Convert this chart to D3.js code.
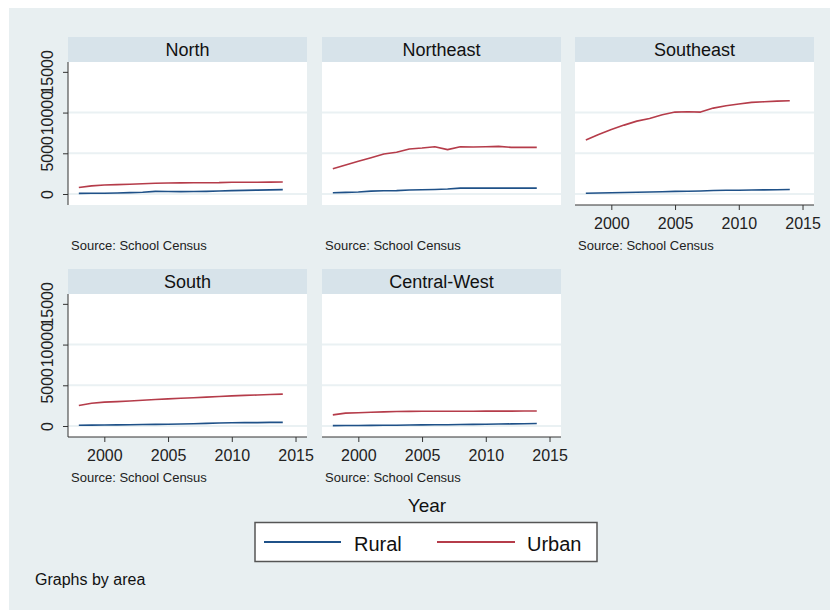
<!DOCTYPE html>
<html><head><meta charset="utf-8">
<script src="https://cdn.jsdelivr.net/npm/d3@7"></script>
<style>body{margin:0;background:#fff}svg{display:block;font-family:"Liberation Sans",Arial,sans-serif}</style>
</head><body><svg id="c" width="830" height="610"></svg>
<script>
const years = [1998,1999,2000,2001,2002,2003,2004,2005,2006,2007,2008,2009,2010,2011,2012,2013,2014];
const areas = ["North","Northeast","Southeast","South","Central-West"];
const ruralNorth = [80,90,100,130,170,220,320,300,290,300,320,370,420,450,480,510,540];
const urbanNorth = [800,1000,1100,1150,1200,1260,1320,1350,1370,1380,1390,1400,1450,1440,1450,1460,1480];
const ruralNortheast = [150,200,250,350,400,420,500,520,560,620,720,720,720,720,720,720,720];
const urbanNortheast = [3110,3560,4010,4460,4910,5120,5530,5650,5810,5450,5810,5770,5810,5850,5730,5730,5730];
const ruralSoutheast = [100,130,160,190,220,250,280,320,340,370,430,460,470,490,510,530,550];
const urbanSoutheast = [6620,7320,7930,8460,8950,9280,9730,10060,10100,10060,10550,10840,11050,11250,11330,11410,11460];
const ruralSouth = [100,110,120,140,160,180,200,220,250,280,320,360,400,410,420,440,450];
const urbanSouth = [2520,2800,2930,3000,3080,3160,3250,3330,3400,3470,3550,3620,3700,3760,3810,3860,3910];
const ruralCentralWest = [50,60,70,80,90,100,120,140,150,160,180,200,220,240,260,280,300];
const urbanCentralWest = [1370,1580,1620,1680,1740,1780,1800,1820,1820,1820,1820,1820,1830,1830,1830,1840,1840];
const yTicks = [0,5000,10000,15000];
const xTicks = [2000,2005,2010,2015];
const seriesNames = ["Rural","Urban"];
const colors = {Rural:"#1f5188", Urban:"#b53c4a"};

const data = {
  North:{Rural:ruralNorth,Urban:urbanNorth},
  Northeast:{Rural:ruralNortheast,Urban:urbanNortheast},
  Southeast:{Rural:ruralSoutheast,Urban:urbanSoutheast},
  South:{Rural:ruralSouth,Urban:urbanSouth},
  "Central-West":{Rural:ruralCentralWest,Urban:urbanCentralWest}
};

const svg = d3.select("#c");
svg.append("rect").attr("x",9).attr("y",8).attr("width",821).attr("height",602).attr("fill","#e8eff1");

const colLeft = [68,322,575], pw = 239;
const rowTop = [37,269], stripH = 25, ph = 143;
const showY = a => a==="North"||a==="South";
const showX = a => a==="Southeast"||a==="South"||a==="Central-West";

areas.forEach((a,i)=>{
  const col = i<3 ? i : i-3, row = i<3 ? 0 : 1;
  const left = colLeft[col], top = rowTop[row];
  const pt = top+stripH, pb = pt+ph;
  const g = svg.append("g");
  g.append("rect").attr("x",left).attr("y",top).attr("width",pw).attr("height",stripH).attr("fill","#d7e3ea");
  g.append("text").attr("x",left+pw/2).attr("y",top+18.5).attr("text-anchor","middle")
    .attr("font-size",18).attr("fill","#111").text(a);
  g.append("rect").attr("x",left).attr("y",pt).attr("width",pw).attr("height",ph).attr("fill","#fff");
  const x = d3.scaleLinear().domain([1997.15,2015.9]).range([left,left+pw]);
  const y = d3.scaleLinear().domain([-1350,16210]).range([pb,pt]);
  [0,5000,10000].forEach(v=>{
    g.append("line").attr("x1",left).attr("x2",left+pw).attr("y1",y(v)).attr("y2",y(v))
      .attr("stroke","#eaf1f3").attr("stroke-width",2);
  });
  seriesNames.forEach(s=>{
    const line = d3.line().x((d,k)=>x(years[k])).y(d=>y(d));
    g.append("path").datum(data[a][s]).attr("d",line).attr("fill","none")
      .attr("stroke",colors[s]).attr("stroke-width",1.6).attr("stroke-linejoin","round");
  });
  if(showY(a)){
    const ax = g.append("g").attr("transform",`translate(${left},0)`)
      .call(d3.axisLeft(y).tickValues(yTicks).tickSize(5).tickPadding(0).tickFormat(d3.format("d")));
    ax.select(".domain").attr("d",`M0,${pt}V${pb}`).attr("stroke","#333");
    ax.selectAll(".tick line").attr("stroke","#333");
    ax.selectAll(".tick text").attr("x",null).attr("dy",null).attr("font-size",16).attr("fill","#222")
      .attr("text-anchor","middle").attr("transform","translate(-15,0) rotate(-90)").attr("y",0);
    ax.attr("font-family",null);
  }
  if(showX(a)){
    const ax = g.append("g").attr("transform",`translate(0,${pb})`)
      .call(d3.axisBottom(x).tickValues(xTicks).tickSize(5).tickPadding(8).tickFormat(d3.format("d")));
    ax.select(".domain").attr("d",`M${left},0H${left+pw}`).attr("stroke","#333");
    ax.selectAll(".tick line").attr("stroke","#333");
    ax.selectAll(".tick text").attr("font-size",16).attr("fill","#222");
    ax.attr("font-family",null);
  }
  g.append("text").attr("x",left+3).attr("y",row===0?250:482).attr("font-size",13).attr("fill","#222")
    .text("Source: School Census");
});

svg.append("text").attr("x",427).attr("y",512).attr("text-anchor","middle").attr("font-size",19).attr("fill","#111").text("Year");
svg.append("rect").attr("x",255).attr("y",522.5).attr("width",342).attr("height",39).attr("fill","#fff")
  .attr("stroke","#555").attr("stroke-width",1.5);
const leg = [{s:"Rural",x1:264,x2:341,tx:354},{s:"Urban",x1:437,x2:515,tx:527}];
leg.forEach(l=>{
  svg.append("line").attr("x1",l.x1).attr("x2",l.x2).attr("y1",542).attr("y2",542).attr("stroke",colors[l.s]).attr("stroke-width",1.8);
  svg.append("text").attr("x",l.tx).attr("y",551).attr("font-size",20).attr("fill","#111").text(l.s);
});
svg.append("text").attr("x",35).attr("y",585).attr("font-size",16).attr("fill","#111").text("Graphs by area");
</script></body></html>
